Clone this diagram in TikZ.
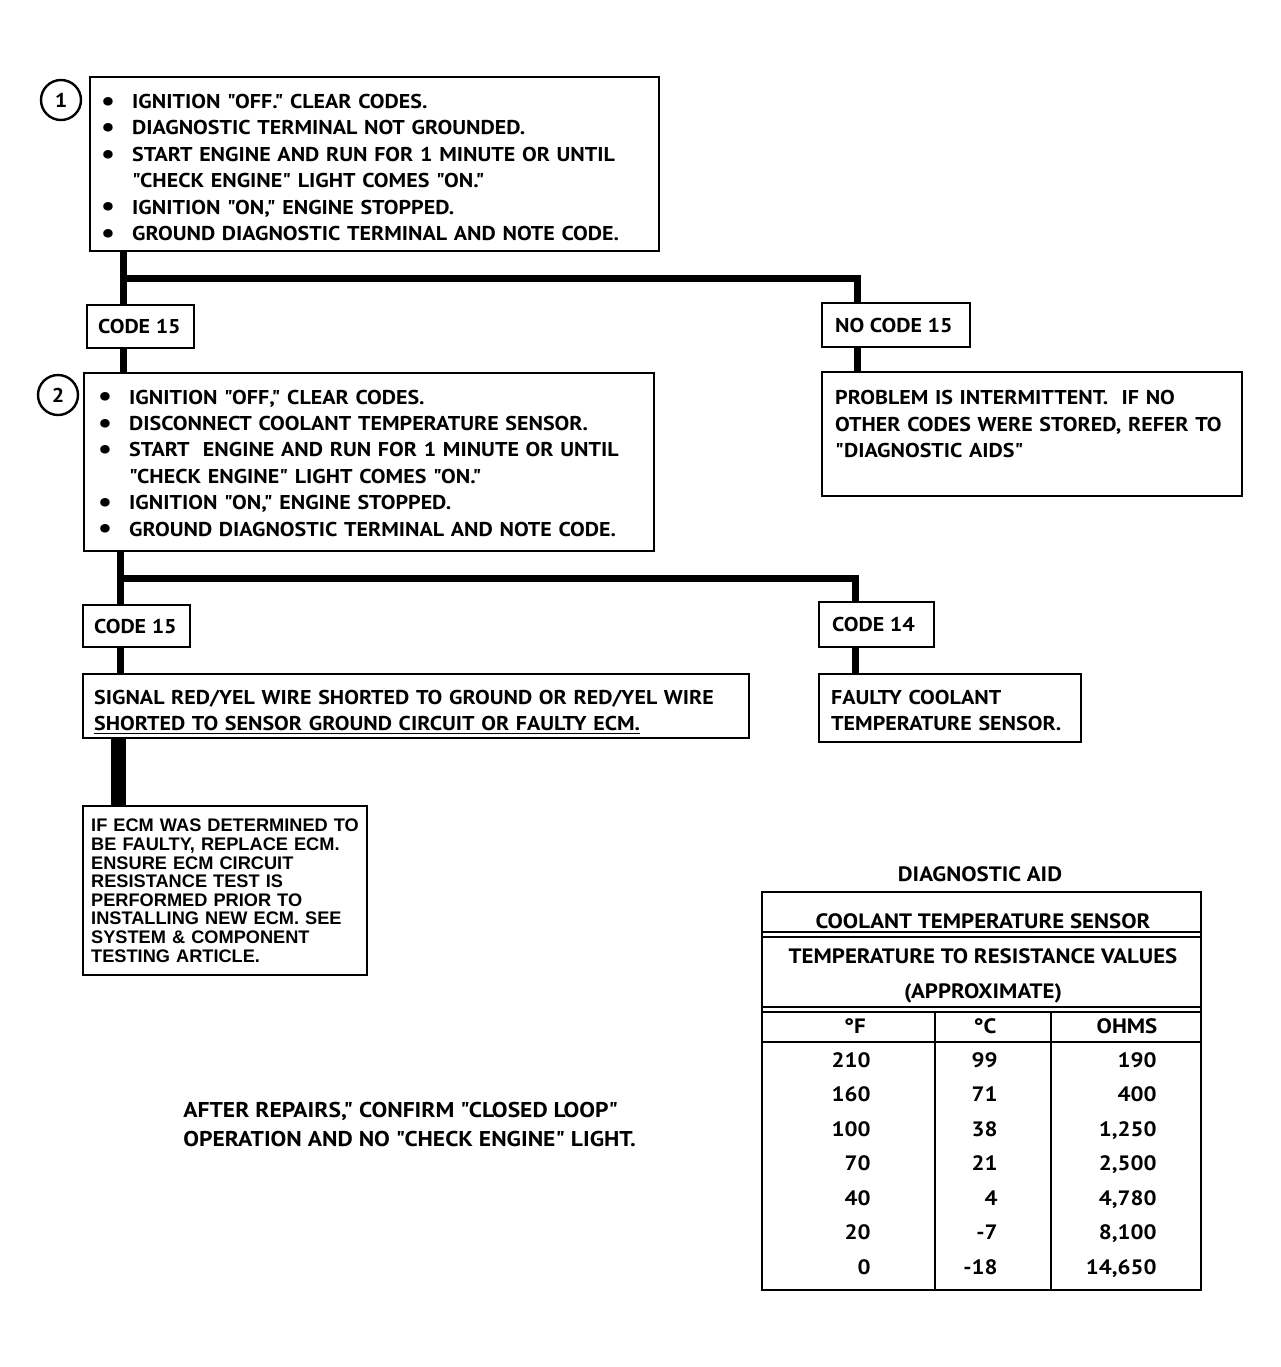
\documentclass[tikz,border=0pt]{standalone}
\usepackage{fontspec}
\setmainfont{PT Sans}[FakeStretch=1.1,Ligatures=TeXOff]
\newfontfamily\ecmfont{Liberation Sans}
\newcommand{\bitem}{\makebox[15.5pt][l]{\raisebox{-0.9pt}{\fontsize{14}{14}\selectfont\textbullet}}}
\newcommand{\bcont}{\makebox[15.5pt][l]{}}
\newcommand{\toppad}[1]{\rule{0pt}{\dimexpr7.2pt+#1\relax}}

\begin{document}
\begin{tikzpicture}[x=0.5pt,y=-0.5pt]
\tikzset{
  stepbox/.style={draw=black,line width=1.2pt,anchor=north west,align=left,inner ysep=0pt,font=\bfseries\fontsize{10}{13.2}\selectfont},
  numcircle/.style={circle,draw=black,line width=1.2pt,minimum size=20pt,inner sep=0pt,font=\bfseries\fontsize{10}{12}\selectfont},
  flowline/.style={draw=black,line width=3.5pt,line cap=butt,line join=miter},
  heavyline/.style={draw=black,line width=7.5pt,line cap=butt},
  tablerule/.style={draw=black,line width=1.2pt},
  tabletext/.style={inner sep=0pt,anchor=base,font=\bfseries\fontsize{10.4}{12}\selectfont}
}
\useasboundingbox (0,0) rectangle (1281,1367);
\node[numcircle] (n_step1) at (61,100) {1};
\node[stepbox,minimum width=284.5pt,minimum height=87pt,inner xsep=5.5pt,text width=273.5pt] (n_ign1) at (89,76)
  {\toppad{4pt}\bitem IGNITION "OFF." CLEAR CODES.\\
   \bitem DIAGNOSTIC TERMINAL NOT GROUNDED.\\
   \bitem START ENGINE AND RUN FOR 1 MINUTE OR UNTIL\\
   \bcont "CHECK ENGINE" LIGHT COMES "ON."\\
   \bitem IGNITION "ON," ENGINE STOPPED.\\
   \bitem GROUND DIAGNOSTIC TERMINAL AND NOTE CODE.};
\node[stepbox,minimum width=53.5pt,minimum height=21.5pt,inner xsep=5.5pt] (n_codeA) at (86,304) {\makebox[42.5pt][l]{CODE 15}};
\node[stepbox,minimum width=74pt,minimum height=22pt,inner xsep=6.5pt] (n_nocode) at (821,302) {\makebox[61pt][l]{NO CODE 15}};
\node[stepbox,minimum width=210pt,minimum height=62pt,inner xsep=6.5pt,text width=197pt] (n_intermit) at (821,371)
  {\toppad{7pt}\mbox{PROBLEM IS INTERMITTENT.~ IF NO}\\
   \mbox{OTHER CODES WERE STORED, REFER TO}\\
   \mbox{"DIAGNOSTIC AIDS"}\\
   \strut};
\node[numcircle] (n_step2) at (58,395) {2};
\node[stepbox,minimum width=285pt,minimum height=89pt,inner xsep=7pt,text width=271pt] (n_ign2) at (83,372)
  {\toppad{1.5pt}\bitem IGNITION "OFF," CLEAR CODES.\\
   \bitem DISCONNECT COOLANT TEMPERATURE SENSOR.\\
   \bitem START~ ENGINE AND RUN FOR 1 MINUTE OR UNTIL\\
   \bcont "CHECK ENGINE" LIGHT COMES "ON."\\
   \bitem IGNITION "ON," ENGINE STOPPED.\\
   \bitem GROUND DIAGNOSTIC TERMINAL AND NOTE CODE.};
\node[stepbox,minimum width=53.5pt,minimum height=21pt,inner xsep=5.5pt] (n_codeB) at (82,604) {\makebox[42.5pt][l]{CODE 15}};
\node[stepbox,minimum width=57.5pt,minimum height=22.5pt,inner xsep=6.5pt] (n_codeC) at (818,601) {\makebox[44.5pt][l]{CODE 14}};
\node[stepbox,minimum width=333pt,minimum height=32pt,inner xsep=5.5pt,text width=322pt] (n_signal) at (82,673)
  {\toppad{6pt}SIGNAL RED/YEL WIRE SHORTED TO GROUND OR RED/YEL WIRE\\
   \underline{SHORTED TO SENSOR GROUND CIRCUIT OR FAULTY ECM.}};
\node[stepbox,minimum width=131pt,minimum height=34pt,inner xsep=6pt,text width=119pt] (n_faulty) at (818,673)
  {\toppad{2pt}FAULTY COOLANT\\
   TEMPERATURE SENSOR.};
\node[stepbox,minimum width=141pt,minimum height=84.5pt,inner xsep=4pt,text width=134pt,font=\ecmfont\bfseries\fontsize{9.1}{9.3}\selectfont] (n_ecm) at (82,805)
  {\mbox{IF ECM WAS DETERMINED TO}\\
   BE FAULTY, REPLACE ECM.\\
   ENSURE ECM CIRCUIT\\
   RESISTANCE TEST IS\\
   PERFORMED PRIOR TO\\
   \mbox{INSTALLING NEW ECM. SEE}\\
   SYSTEM \& COMPONENT\\
   TESTING ARTICLE.};
\coordinate (c_fork1) at (123,278);
\coordinate (c_fork1r) at (857,278);
\coordinate (c_fork2) at (120,578);
\coordinate (c_fork2r) at (855,578);
\coordinate (c_drop) at (118,740);
\draw[flowline] (n_ign1.south -| c_fork1) -- (n_codeA.north -| c_fork1);
\draw[flowline] (c_fork1) -- (c_fork1r) -- (n_nocode.north -| c_fork1r);
\draw[flowline] (n_codeA.south -| c_fork1) -- (n_ign2.north -| c_fork1);
\draw[flowline] (n_nocode.south -| c_fork1r) -- (n_intermit.north -| c_fork1r);
\draw[flowline] (n_ign2.south -| c_fork2) -- (n_codeB.north -| c_fork2);
\draw[flowline] (c_fork2) -- (c_fork2r) -- (n_codeC.north -| c_fork2r);
\draw[flowline] (n_codeB.south -| c_fork2) -- (n_signal.north -| c_fork2);
\draw[flowline] (n_codeC.south -| c_fork2r) -- (n_faulty.north -| c_fork2r);
\draw[heavyline] (n_signal.south -| c_drop) -- (n_ecm.north -| c_drop);
\node[anchor=west,align=left,inner sep=0pt,font=\bfseries\fontsize{10.7}{14.5}\selectfont] (n_after) at (183,1124)
  {AFTER REPAIRS," CONFIRM "CLOSED LOOP"\\
   OPERATION AND NO "CHECK ENGINE" LIGHT.};
\node[tabletext] (n_aidtitle) at (980,881) {DIAGNOSTIC AID};
\draw[tablerule] (762,892) rectangle (1201,1290);
\draw[tablerule] (762,932) -- (1201,932) (762,937) -- (1201,937);
\draw[tablerule] (762,1007) -- (1201,1007) (762,1012) -- (1201,1012);
\draw[tablerule] (762,1042) -- (1201,1042);
\draw[tablerule] (935,1012) -- (935,1290) (1051,1012) -- (1051,1290);
\node[tabletext] (n_sensor) at (983,928) {COOLANT TEMPERATURE SENSOR};
\node[tabletext] (n_values) at (983,963) {TEMPERATURE TO RESISTANCE VALUES};
\node[tabletext] (n_approx) at (983,998) {(APPROXIMATE)};
\node[tabletext] (n_degf) at (855,1033) {°F};
\node[tabletext] (n_degc) at (985,1033) {°C};
\node[tabletext] (n_ohms) at (1127,1033) {OHMS};
\foreach \f/\c/\r [count=\i from 0] in {210/99/190,160/71/400,100/38/{1,250},70/21/{2,500},40/4/{4,780},20/-7/{8,100},0/-18/{14,650}} {
  \node[tabletext,anchor=base east] (n_f\i) at (871,{1067+34.5*\i}) {\f};
  \node[tabletext,anchor=base east] (n_c\i) at (998,{1067+34.5*\i}) {\c};
  \node[tabletext,anchor=base east] (n_r\i) at (1157,{1067+34.5*\i}) {\r};
}
\end{tikzpicture}
\end{document}
